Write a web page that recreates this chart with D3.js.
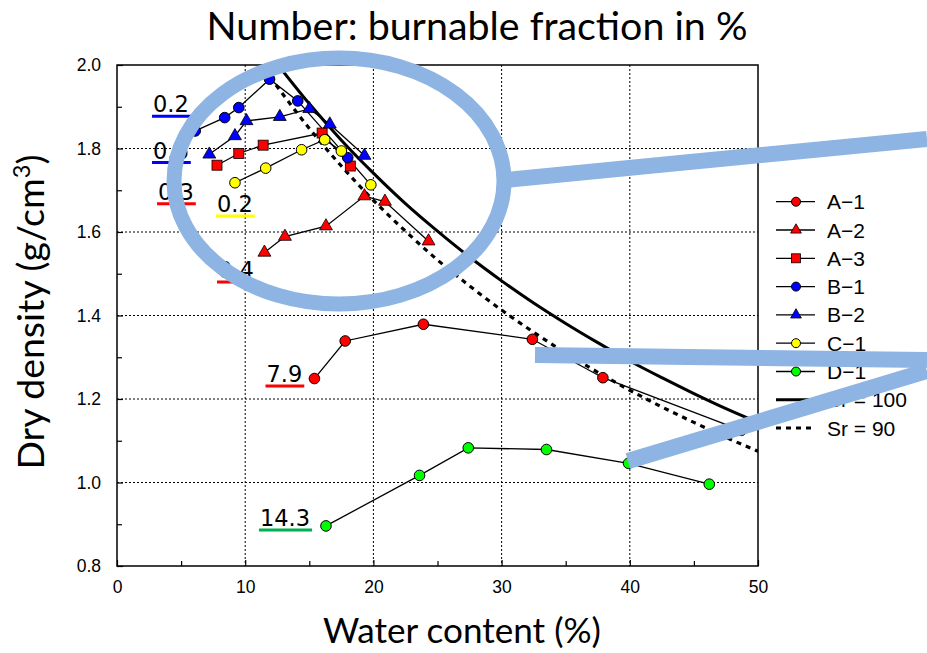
<!DOCTYPE html>
<html><head><meta charset="utf-8">
<script src="https://cdn.jsdelivr.net/npm/d3@7"></script>
<style>body{margin:0;background:#fff}</style>
</head><body>
<svg id="c" width="927" height="653"></svg>
<script>
// ---------- data ----------
const xTickValues = [0, 10, 20, 30, 40, 50];
const xMinorValues = [5, 15, 25, 35, 45];
const yTickValues = [0.8, 1.0, 1.2, 1.4, 1.6, 1.8, 2.0];
const yMinorValues = [0.9, 1.1, 1.3, 1.5, 1.7, 1.9];

const seriesNames  = ["A−1", "A−2", "A−3", "B−1", "B−2", "C−1", "D−1"];
const seriesColors = ["#ff0000", "#ff0000", "#ff0000", "#0000ff", "#0000ff", "#ffff00", "#00ff00"];
const seriesShapes = ["circle", "triangle", "square", "circle", "triangle", "circle", "circle"];

const A1_w = [15.4, 17.8, 23.9, 32.4, 37.9, 48.7];
const A1_d = [1.249, 1.339, 1.379, 1.343, 1.251, 1.125];
const A2_w = [11.5, 13.1, 16.3, 19.3, 20.9, 24.3];
const A2_d = [1.551, 1.589, 1.614, 1.686, 1.673, 1.578];
const A3_w = [7.8, 9.5, 11.4, 16.0, 18.2];
const A3_d = [1.760, 1.788, 1.808, 1.837, 1.758];
const B1_w = [6.1, 8.4, 9.5, 11.9, 14.1, 18.0];
const B1_d = [1.842, 1.874, 1.898, 1.966, 1.914, 1.778];
const B2_w = [7.2, 9.2, 10.1, 12.7, 15.0, 16.6, 19.3];
const B2_d = [1.786, 1.830, 1.866, 1.876, 1.895, 1.858, 1.783];
const C1_w = [9.2, 11.6, 14.4, 16.2, 17.5, 19.8];
const C1_d = [1.718, 1.753, 1.797, 1.821, 1.794, 1.713];
const D1_w = [16.3, 23.6, 27.4, 33.5, 39.9, 46.2];
const D1_d = [0.896, 1.017, 1.083, 1.079, 1.046, 0.996];

// saturation curves
const Sr100_w = [12.56, 15, 17.5, 20, 22.5, 25, 27.5, 30, 32.5, 35, 37.5, 40, 42.5, 45, 47.5, 50];
const Sr100_d = [2.000, 1.907, 1.820, 1.741, 1.668, 1.602, 1.540, 1.483, 1.430, 1.381, 1.335, 1.291, 1.251, 1.213, 1.177, 1.144];
const Sr90_w  = [12.4, 15, 17.5, 20, 22.5, 25, 27.5, 30, 32.5, 35, 37.5, 40, 42.5, 45, 47.5, 50];
const Sr90_d  = [1.952, 1.848, 1.758, 1.676, 1.602, 1.533, 1.471, 1.413, 1.360, 1.310, 1.264, 1.221, 1.181, 1.144, 1.108, 1.075];

const labelTexts  = ["0.2", "0.6", "0.3", "0.2", "0.4", "7.9", "14.3"];
const labelColors = ["#0000ff", "#0000ff", "#ff0000", "#ffff00", "#ff0000", "#ff0000", "#00b050"];
const labelW = [2.81, 2.81, 3.20, 7.80, 7.88, 11.66, 11.15];
const labelD = [1.887, 1.776, 1.677, 1.648, 1.490, 1.241, 0.896];

const titleText = "Number: burnable fraction in %";
const xTitle = "Water content (%)";

// ---------- drawing ----------
const svg = d3.select("#c");
const x = d3.scaleLinear([0, 50], [117, 758]);
const y = d3.scaleLinear([0.8, 2.0], [566, 65]);

const seriesW = [A1_w, A2_w, A3_w, B1_w, B2_w, C1_w, D1_w];
const seriesD = [A1_d, A2_d, A3_d, B1_d, B2_d, C1_d, D1_d];
const series = seriesNames.map((n, i) => ({
  name: n, color: seriesColors[i], shape: seriesShapes[i],
  pts: seriesW[i].map((w, j) => [w, seriesD[i][j]])
}));

// grid
const grid = svg.append("g").attr("stroke", "#000").attr("stroke-width", 1).attr("stroke-dasharray", "2,2");
xTickValues.slice(1, -1).forEach(v => grid.append("line").attr("x1", x(v)).attr("x2", x(v)).attr("y1", y(2.0)).attr("y2", y(0.8)));
yTickValues.slice(1, -1).forEach(v => grid.append("line").attr("y1", y(v)).attr("y2", y(v)).attr("x1", x(0)).attr("x2", x(50)));

// axes
const fmtY = d3.format(".1f");
const xAxis = svg.append("g").attr("transform", `translate(0,${y(0.8)})`)
  .call(d3.axisBottom(x).tickValues(xTickValues).tickSize(-6).tickPadding(15).tickFormat(d3.format("d")));
const xMinor = svg.append("g").attr("transform", `translate(0,${y(0.8)})`)
  .call(d3.axisBottom(x).tickValues(xMinorValues).tickSize(-5).tickFormat(""));
const yAxis = svg.append("g").attr("transform", `translate(${x(0)},0)`)
  .call(d3.axisLeft(y).tickValues(yTickValues).tickSize(-6).tickPadding(16).tickFormat(fmtY));
const yMinor = svg.append("g").attr("transform", `translate(${x(0)},0)`)
  .call(d3.axisLeft(y).tickValues(yMinorValues).tickSize(-5).tickFormat(""));
[xAxis, xMinor, yAxis, yMinor].forEach(g => {
  g.select(".domain").remove();
  g.selectAll("line").attr("stroke", "#000").attr("stroke-width", 1.2);
  g.selectAll("text").attr("font-family", "Liberation Sans, Arial, sans-serif").attr("font-size", 17.5).attr("fill", "#000");
});
// plot frame
svg.append("rect").attr("x", x(0)).attr("y", y(2.0)).attr("width", x(50) - x(0)).attr("height", y(0.8) - y(2.0))
  .attr("fill", "none").attr("stroke", "#000").attr("stroke-width", 1.5);

// clip
svg.append("clipPath").attr("id", "clip").append("rect")
  .attr("x", x(0)).attr("y", y(2.0)).attr("width", x(50) - x(0)).attr("height", y(0.8) - y(2.0));
const plot = svg.append("g").attr("clip-path", "url(#clip)");

// saturation curves
const curveLine = d3.line().x(d => x(d[0])).y(d => y(d[1])).curve(d3.curveMonotoneX);
plot.append("path").datum(Sr100_w.map((w, i) => [w, Sr100_d[i]]))
  .attr("d", curveLine).attr("fill", "none").attr("stroke", "#000").attr("stroke-width", 3);
plot.append("path").datum(Sr90_w.map((w, i) => [w, Sr90_d[i]]))
  .attr("d", curveLine).attr("fill", "none").attr("stroke", "#000").attr("stroke-width", 3.2)
  .attr("stroke-dasharray", "5,5");

// series lines
const line = d3.line().x(d => x(d[0])).y(d => y(d[1]));
series.forEach(s => {
  plot.append("path").datum(s.pts).attr("d", line).attr("fill", "none")
    .attr("stroke", "#000").attr("stroke-width", 1.3);
});

function marker(g, shape, cx, cy, color) {
  if (shape === "circle") {
    g.append("circle").attr("cx", cx).attr("cy", cy).attr("r", 5.3)
      .attr("fill", color).attr("stroke", "#000").attr("stroke-width", 1);
  } else if (shape === "triangle") {
    g.append("path").attr("d", d3.symbol(d3.symbolTriangle, 72)())
      .attr("transform", `translate(${cx},${cy})`)
      .attr("fill", color).attr("stroke", "#000").attr("stroke-width", 0.8);
  } else {
    g.append("rect").attr("x", cx - 5).attr("y", cy - 5).attr("width", 10).attr("height", 10)
      .attr("fill", color).attr("stroke", "#000").attr("stroke-width", 0.8);
  }
}
series.forEach(s => {
  s.pts.forEach(p => marker(plot, s.shape, x(p[0]), y(p[1]), s.color));
});

// labels
labelTexts.forEach((t, i) => {
  const tx = svg.append("text").attr("x", x(labelW[i])).attr("y", y(labelD[i]))
    .attr("font-family", "DejaVu Sans, sans-serif").attr("font-size", 22.5)
    .attr("fill", "#000").text(t);
  const w = tx.node().getComputedTextLength();
  svg.append("line").attr("x1", x(labelW[i]) - 1).attr("x2", x(labelW[i]) + w + 2)
    .attr("y1", y(labelD[i]) + 4).attr("y2", y(labelD[i]) + 4)
    .attr("stroke", labelColors[i]).attr("stroke-width", 3);
});

// legend
const legendNames = seriesNames.concat(["Sr = 100", "Sr = 90"]);
const lg = svg.append("g");
legendNames.forEach((n, i) => {
  const cy = 201.7 + i * 28.3;
  const l = lg.append("line").attr("x1", 776).attr("x2", 815).attr("y1", cy).attr("y2", cy).attr("stroke", "#000");
  if (i < series.length) {
    l.attr("stroke-width", 1.3);
    const s = series[i];
    if (s.shape === "circle") {
      lg.append("circle").attr("cx", 796).attr("cy", cy).attr("r", 4.5)
        .attr("fill", s.color).attr("stroke", "#000").attr("stroke-width", 1);
    } else if (s.shape === "triangle") {
      lg.append("path").attr("d", d3.symbol(d3.symbolTriangle, 50)()).attr("transform", `translate(796,${cy})`)
        .attr("fill", s.color).attr("stroke", "#000").attr("stroke-width", 0.8);
    } else {
      lg.append("rect").attr("x", 791.5).attr("y", cy - 4.5).attr("width", 9).attr("height", 9)
        .attr("fill", s.color).attr("stroke", "#000").attr("stroke-width", 0.8);
    }
  } else if (i === series.length) {
    l.attr("stroke-width", 3);
  } else {
    l.attr("stroke-width", 3).attr("stroke-dasharray", "5,5");
  }
  lg.append("text").attr("x", 827).attr("y", cy).attr("dy", "0.36em")
    .attr("font-family", "Liberation Sans, Arial, sans-serif").attr("font-size", 21)
    .attr("fill", "#000").text(n);
});

// titles
function fitText(sel, target) {
  const fs = +sel.attr("font-size");
  const w = sel.node().getComputedTextLength();
  sel.attr("font-size", fs * target / w);
}
const t1 = svg.append("text").attr("x", 477).attr("y", 40).attr("text-anchor", "middle")
  .attr("font-family", "Lato, sans-serif").attr("font-size", 32).attr("fill", "#000").text(titleText);
fitText(t1, 541);
const t2 = svg.append("text").attr("x", 462).attr("y", 643).attr("text-anchor", "middle")
  .attr("font-family", "Lato, sans-serif").attr("font-size", 27).attr("fill", "#000").text(xTitle);
fitText(t2, 278);
const t3 = svg.append("text").attr("transform", "translate(44,312) rotate(-90)").attr("text-anchor", "middle")
  .attr("font-family", "Lato, sans-serif").attr("font-size", 27).attr("fill", "#000");
t3.append("tspan").text("Dry density (g/cm");
t3.append("tspan").attr("baseline-shift", "super").attr("font-size", 17).text("3");
t3.append("tspan").text(")");
{
  const bb = t3.node().getBBox();
  const sc = 315 / bb.width;
  t3.attr("font-size", 27 * sc);
  t3.select("tspan:nth-child(2)").attr("font-size", 17 * sc);
}

// highlight overlays
const hl = svg.append("g").attr("stroke", "#8db4e2").attr("fill", "none");
hl.append("ellipse").attr("cx", 339).attr("cy", 181).attr("rx", 165).attr("ry", 123).attr("stroke-width", 15);
hl.append("line").attr("x1", 505).attr("y1", 180).attr("x2", 927).attr("y2", 139).attr("stroke-width", 16);
hl.append("line").attr("x1", 535).attr("y1", 355).attr("x2", 927).attr("y2", 360).attr("stroke-width", 16);
hl.append("line").attr("x1", 628).attr("y1", 461).attr("x2", 927).attr("y2", 371).attr("stroke-width", 16);
</script>
</body></html>
